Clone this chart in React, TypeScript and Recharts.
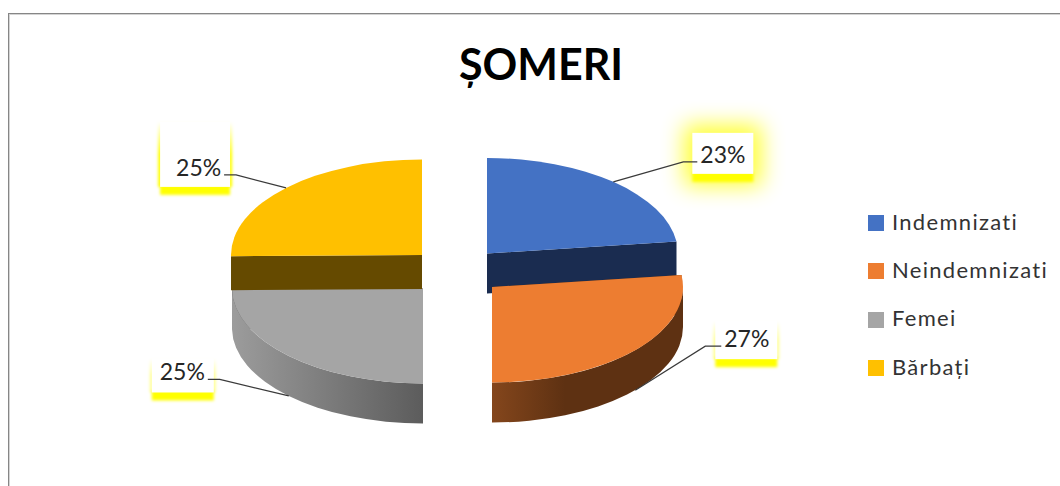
import React from 'react';
import { PieChart, Pie, Cell, Legend } from 'recharts';

const CATEGORIES = ['Indemnizati', 'Neindemnizati', 'Femei', 'Bărbați'];
const SHARES = [23, 27, 24.8, 25.2];

const COLORS = ['#4472c4', '#ed7d31', '#a5a5a5', '#ffc000'];
const WALLS = ['#1a2c50', 'url(#wallOrange)', 'url(#wallGrey)', '#654a00'];
const RADIAL_WALLS = ['#1a2c50', '#5e3112', '#5f5f5f', '#654a00'];

const WIDTH = 1060;
const HEIGHT = 486;
const CX = 455;
const CY = 271;
const RADIUS = 191;
const SQUASH = 0.5;
const FONT = 'Lato, "Open Sans", sans-serif';

// explosion of each slice, away from the common centre
const EXPLODE = [[32, -17.5], [37, 16], [-32, 17], [-33, -16]];
const DEPTH = [40, 40, 40, 34];

// text offset from leader tip, elbow length, white box relative to the text
const LABELS = [
  { dx: 87, dy: -19, elbow: 14, box: [-8, -30, 61, 41], halo: true, sideOpacity: 0 },
  { dx: 89, dy: -43, elbow: 16, box: [-9, -26, 62, 38], halo: false, sideOpacity: 0.4 },
  { dx: -129, dy: -15.5, elbow: 12, box: [-8, -22, 62, 34], halo: false, sideOpacity: 0.4 },
  { dx: -110, dy: -12, elbow: 12, box: [-16, -54, 70, 65], halo: false, sideOpacity: 1 },
];

const pieData = CATEGORIES.map((name, i) => ({ name, value: SHARES[i] }));

const pt = (cx: number, cy: number, deg: number) => {
  const a = (deg * Math.PI) / 180;
  return [cx + RADIUS * Math.cos(a), cy - RADIUS * SQUASH * Math.sin(a)];
};

const Slice = (props: any) => {
  const { startAngle, endAngle, name } = props;
  const i = CATEGORIES.indexOf(name);
  const cx = props.cx + EXPLODE[i][0];
  const cy = props.cy + EXPLODE[i][1];
  const d = DEPTH[i];
  const rx = RADIUS;
  const ry = RADIUS * SQUASH;
  const [sx, sy] = pt(cx, cy, startAngle);
  const [ex, ey] = pt(cx, cy, endAngle);
  const large = Math.abs(startAngle - endAngle) > 180 ? 1 : 0;

  // outer wall only shows on the lower half of the rim
  const a0 = Math.min(startAngle, 0);
  const a1 = Math.max(endAngle, -180);
  let wall = null;
  if (a0 > a1) {
    const [x0, y0] = pt(cx, cy, a0);
    const [x1, y1] = pt(cx, cy, a1);
    wall = (
      <path
        d={`M${x0},${y0} A${rx},${ry} 0 0 1 ${x1},${y1} L${x1},${y1 + d} A${rx},${ry} 0 0 0 ${x0},${y0 + d} Z`}
        fill={WALLS[i]}
      />
    );
  }

  return (
    <g>
      <path d={`M${cx},${cy} L${sx},${sy} L${sx},${sy + d} L${cx},${cy + d} Z`} fill={RADIAL_WALLS[i]} />
      <path d={`M${cx},${cy} L${ex},${ey} L${ex},${ey + d} L${cx},${cy + d} Z`} fill={RADIAL_WALLS[i]} />
      {wall}
      <path d={`M${cx},${cy} L${sx},${sy} A${rx},${ry} 0 ${large} 1 ${ex},${ey} Z`} fill={COLORS[i]} />
    </g>
  );
};

const SliceLabel = (props: any) => {
  const { midAngle, name, percent } = props;
  const i = CATEGORIES.indexOf(name);
  const cx = props.cx + EXPLODE[i][0];
  const cy = props.cy + EXPLODE[i][1];
  const [px, py] = pt(cx, cy, midAngle);
  const tipY = midAngle < 0 && midAngle > -180 ? py + DEPTH[i] : py;
  const cfg = LABELS[i];
  const side = cfg.dx > 0 ? 1 : -1;
  const tx = px + cfg.dx;
  const by = tipY + cfg.dy;
  const [bx, bTop, bw, bh] = cfg.box;
  const lineY = by - 1;
  const textEdge = side > 0 ? tx - 3 : tx + 48;
  const elbowX = side > 0 ? textEdge - cfg.elbow : textEdge + cfg.elbow;
  return (
    <g>
      {cfg.halo && (
        <rect x={tx + bx - 8} y={by + bTop - 8} width={bw + 16} height={bh + 20} fill="#ffff00" opacity={0.8} filter="url(#haloBlur)" />
      )}
      <rect x={tx + bx - 2} y={by + bTop} width={bw + 4} height={bh} fill="url(#fadeYellow)" opacity={cfg.sideOpacity} filter="url(#edgeBlur)" />
      <rect x={tx + bx} y={by + bTop + bh - 2} width={bw} height={10} fill="#ffff00" filter="url(#edgeBlur)" />
      <rect x={tx + bx} y={by + bTop} width={bw} height={bh} fill="#ffffff" />
      <polyline
        points={`${textEdge},${lineY} ${elbowX},${lineY} ${px},${tipY}`}
        fill="none"
        stroke="#3a3a3a"
        strokeWidth={1.2}
      />
      <text x={tx} y={by} fontFamily={FONT} fontSize={23} fill="#262626">
        {`${Math.round(percent * 100)}%`}
      </text>
    </g>
  );
};

const LegendList = (props: any) => (
  <div>
    {props.payload.map((p: any, i: number) => (
      <div key={p.value} style={{ display: 'flex', alignItems: 'center', height: 48.3 }}>
        <span style={{ width: 16, height: 16, background: COLORS[i], marginRight: 8, flex: 'none' }} />
        <span style={{ position: 'relative', top: -2, fontFamily: FONT, fontSize: 22, letterSpacing: 1.3, color: '#333333', whiteSpace: 'nowrap' }}>{p.value}</span>
      </div>
    ))}
  </div>
);

export default function App() {
  return (
    <div style={{ position: 'absolute', left: 0, top: 0, width: WIDTH, height: HEIGHT, background: '#fff', overflow: 'hidden' }}>
      <div style={{ position: 'absolute', left: 8, top: 13, right: -2, bottom: -2, borderTop: '1px solid #868686', borderLeft: '1px solid #868686' }} />
      <div style={{ position: 'absolute', left: 9, top: 14, right: -2, bottom: -2, borderTop: '1px solid #d4d4d4', borderLeft: '1px solid #d4d4d4' }} />
      <PieChart width={WIDTH} height={HEIGHT} margin={{ top: 0, right: 0, bottom: 0, left: 0 }}>
        <defs>
          <linearGradient id="wallOrange" gradientUnits="userSpaceOnUse" x1={492} x2={565} y1={0} y2={0}>
            <stop offset="0" stopColor="#84461c" />
            <stop offset="1" stopColor="#5e3112" />
          </linearGradient>
          <linearGradient id="wallGrey" gradientUnits="userSpaceOnUse" x1={232} x2={423} y1={0} y2={0}>
            <stop offset="0" stopColor="#9c9c9c" />
            <stop offset="1" stopColor="#5c5c5c" />
          </linearGradient>
          <linearGradient id="fadeYellow" x1={0} x2={0} y1={0} y2={1}>
            <stop offset="0" stopColor="#ffff00" stopOpacity={0} />
            <stop offset="0.5" stopColor="#ffff00" />
            <stop offset="1" stopColor="#ffff00" />
          </linearGradient>
          <filter id="edgeBlur" x="-20%" y="-40%" width="140%" height="180%">
            <feGaussianBlur stdDeviation={1.6} />
          </filter>
          <filter id="haloBlur" x="-100%" y="-100%" width="300%" height="300%">
            <feGaussianBlur stdDeviation={11} />
          </filter>
        </defs>
        <text x={541} y={80} textAnchor="middle" fontFamily={FONT} fontWeight={700} fontSize={43} fill="#000000">
          ȘOMERI
        </text>
        <Pie
          data={pieData}
          dataKey="value"
          nameKey="name"
          cx={CX}
          cy={CY}
          innerRadius={0}
          outerRadius={RADIUS}
          startAngle={90}
          endAngle={-270}
          stroke="none"
          shape={Slice}
          label={SliceLabel}
          labelLine={false}
          isAnimationActive={false}
        >
          {CATEGORIES.map((name, i) => (
            <Cell key={name} fill={COLORS[i]} />
          ))}
        </Pie>
        <Legend
          layout="vertical"
          itemSorter={null}
          content={LegendList}
          wrapperStyle={{ left: 868, top: 199, width: 190 }}
        />
      </PieChart>
    </div>
  );
}
